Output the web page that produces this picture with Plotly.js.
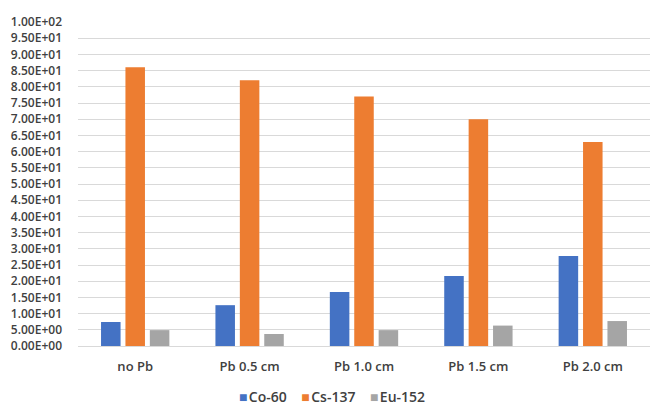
<!DOCTYPE html>
<html>
<head>
<meta charset="utf-8">
<script src="https://cdn.plot.ly/plotly-3.0.1.min.js"></script>
<style>html,body{margin:0;padding:0;background:#fff;}#chart{width:650px;height:405px;}</style>
</head>
<body>
<div id="chart"></div>
<script>
const categories = ["no Pb", "Pb 0.5 cm", "Pb 1.0 cm", "Pb 1.5 cm", "Pb 2.0 cm"];
const co60 = [7.4, 12.6, 16.7, 21.6, 27.8];
const cs137 = [86, 82, 77, 70, 63];
const eu152 = [4.9, 3.7, 4.9, 6.3, 7.7];
const seriesNames = ["Co-60", "Cs-137", "Eu-152"];
const tickValues = [0,5,10,15,20,25,30,35,40,45,50,55,60,65,70,75,80,85,90,95,100];

function sci(v){
  let s = v.toExponential(2);
  let [m, e] = s.split("e");
  let sign = e[0] === "-" ? "-" : "+";
  let d = Math.abs(parseInt(e, 10));
  return m + "E" + sign + (d < 10 ? "0" + d : "" + d);
}
const tickText = tickValues.map(sci);

const colors = ["#4472C4", "#ED7D31", "#A5A5A5"];
const values = [co60, cs137, eu152];
const traces = values.map((v, i) => ({
  type: "bar", x: categories, y: v, name: seriesNames[i],
  marker: {color: colors[i]}, hoverinfo: "none", showlegend: false
}));

const legendText = seriesNames.map((n, i) =>
  "<span style='color:" + colors[i] + "'>■</span>&#8202;" + n).join("&nbsp;&nbsp;&nbsp;&nbsp;");

const layout = {
  width: 650, height: 405,
  margin: {l: 78, r: 0, t: 22, b: 59},
  paper_bgcolor: "#fff", plot_bgcolor: "#fff",
  barmode: "group", bargap: 0.36, bargroupgap: 0.2,
  font: {family: "Open Sans, sans-serif", color: "#404040", size: 12, weight: 600},
  xaxis: {
    showgrid: false, showline: false, zeroline: false, ticks: "",
    tickfont: {size: 13, color: "#404040", weight: 600}, ticklabelstandoff: 11
  },
  yaxis: {
    range: [0, 100], tickvals: tickValues, ticktext: tickText,
    showgrid: true, gridcolor: "#d9d9d9", gridwidth: 1,
    zeroline: true, zerolinecolor: "#d9d9d9", zerolinewidth: 1,
    showline: false, ticks: "",
    tickfont: {size: 12, color: "#404040", weight: 600}, ticklabelstandoff: 15
  },
  showlegend: false,
  annotations: [{
    xref: "paper", yref: "paper", x: (332 - 78) / 572, y: -0.156,
    xanchor: "center", yanchor: "middle", showarrow: false,
    text: legendText, font: {size: 14, color: "#404040", weight: 600}
  }]
};

Plotly.newPlot("chart", traces, layout, {staticPlot: true});
</script>
</body>
</html>
